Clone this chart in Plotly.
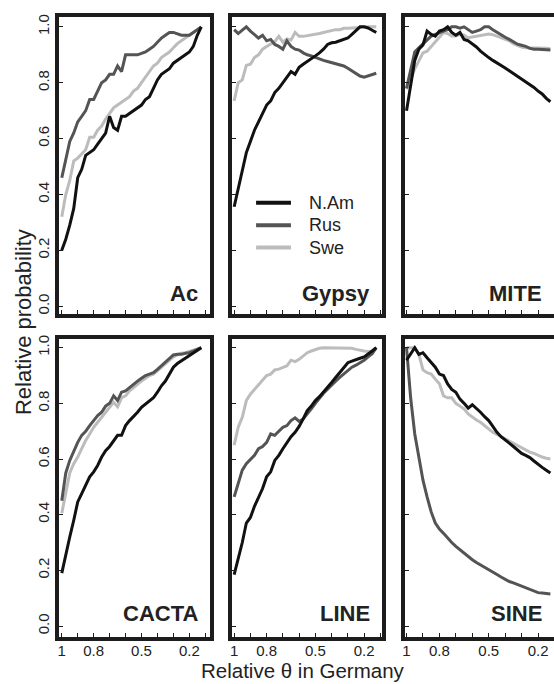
import plotly.graph_objects as go

# ---------------- data ----------------
X = [1.0, 0.975, 0.95, 0.925, 0.9, 0.875, 0.85, 0.825, 0.8, 0.775, 0.75, 0.725,
     0.7, 0.675, 0.65, 0.625, 0.6, 0.575, 0.55, 0.525, 0.5, 0.475, 0.45, 0.425,
     0.4, 0.375, 0.35, 0.325, 0.3, 0.275, 0.25, 0.225, 0.2, 0.175, 0.15, 0.125]

SERIES = ["N.Am", "Rus", "Swe"]
PANELS = ["Ac", "Gypsy", "MITE", "CACTA", "LINE", "SINE"]

AC_NAM = [0.20, 0.24, 0.29, 0.35, 0.46, 0.49, 0.54, 0.55, 0.56, 0.58, 0.60, 0.62,
          0.68, 0.64, 0.63, 0.68, 0.68, 0.69, 0.70, 0.71, 0.72, 0.74, 0.75, 0.78,
          0.81, 0.83, 0.84, 0.85, 0.87, 0.88, 0.89, 0.90, 0.91, 0.93, 0.97, 1.00]
AC_RUS = [0.46, 0.52, 0.59, 0.62, 0.66, 0.68, 0.70, 0.74, 0.74, 0.77, 0.80, 0.81,
          0.83, 0.83, 0.86, 0.84, 0.90, 0.90, 0.90, 0.90, 0.905, 0.91, 0.92, 0.93,
          0.945, 0.96, 0.97, 0.98, 0.98, 0.975, 0.97, 0.97, 0.97, 0.98, 0.99, 1.00]
AC_SWE = [0.32, 0.40, 0.45, 0.52, 0.53, 0.545, 0.56, 0.605, 0.605, 0.63, 0.645, 0.67,
          0.69, 0.71, 0.72, 0.73, 0.74, 0.75, 0.77, 0.78, 0.80, 0.82, 0.84, 0.86,
          0.87, 0.89, 0.90, 0.91, 0.925, 0.94, 0.95, 0.96, 0.97, 0.98, 0.99, 1.00]

GY_NAM = [0.356, 0.42, 0.48, 0.55, 0.59, 0.63, 0.66, 0.69, 0.72, 0.735, 0.765, 0.78,
          0.80, 0.82, 0.84, 0.83, 0.855, 0.866, 0.875, 0.884, 0.896, 0.907, 0.92, 0.937,
          0.943, 0.945, 0.95, 0.953, 0.96, 0.973, 0.988, 1.0, 1.0, 0.996, 0.988, 0.98]
GY_RUS = [0.99, 0.976, 0.988, 1.0, 0.985, 0.973, 0.96, 0.97, 0.95, 0.955, 0.937, 0.93,
          0.92, 0.95, 0.93, 0.92, 0.917, 0.907, 0.90, 0.896, 0.89, 0.884, 0.88, 0.876,
          0.872, 0.868, 0.864, 0.86, 0.852, 0.842, 0.834, 0.824, 0.82, 0.824, 0.83, 0.834]
GY_SWE = [0.735, 0.80, 0.81, 0.862, 0.866, 0.89, 0.90, 0.92, 0.93, 0.94, 0.947, 0.966,
          0.945, 0.957, 0.953, 0.98, 0.966, 0.966, 0.968, 0.97, 0.972, 0.976, 0.98, 0.984,
          0.988, 0.99, 0.99, 0.995, 0.995, 0.995, 0.997, 0.998, 1.0, 1.0, 1.0, 1.0]

MI_NAM = [0.70, 0.79, 0.88, 0.92, 0.935, 0.985, 0.973, 0.967, 0.985, 0.99, 1.0, 0.98,
          0.97, 0.98, 0.955, 0.95, 0.94, 0.928, 0.913, 0.90, 0.89, 0.88, 0.872, 0.862,
          0.853, 0.843, 0.833, 0.822, 0.813, 0.803, 0.794, 0.783, 0.77, 0.76, 0.744, 0.732]
MI_RUS = [0.78, 0.85, 0.91, 0.925, 0.94, 0.955, 0.967, 0.973, 0.98, 0.985, 0.99, 1.0,
          1.0, 0.995, 1.0, 0.99, 0.98, 0.985, 0.99, 1.0, 1.0, 0.99, 0.98, 0.973,
          0.963, 0.955, 0.945, 0.938, 0.934, 0.93, 0.923, 0.92, 0.92, 0.92, 0.918, 0.917]
MI_SWE = [0.777, 0.81, 0.85, 0.88, 0.907, 0.913, 0.93, 0.945, 0.96, 0.98, 0.976, 0.967,
          0.967, 0.973, 0.97, 0.96, 0.964, 0.967, 0.97, 0.973, 0.974, 0.972, 0.967, 0.96,
          0.955, 0.95, 0.94, 0.934, 0.928, 0.925, 0.925, 0.925, 0.925, 0.924, 0.923, 0.922]

CA_NAM = [0.19, 0.26, 0.32, 0.38, 0.446, 0.476, 0.506, 0.536, 0.554, 0.577, 0.607, 0.63,
          0.645, 0.667, 0.685, 0.685, 0.72, 0.738, 0.752, 0.768, 0.786, 0.798, 0.81, 0.82,
          0.84, 0.863, 0.88, 0.905, 0.93, 0.943, 0.952, 0.962, 0.97, 0.982, 0.99, 1.0]
CA_RUS = [0.45, 0.55, 0.595, 0.63, 0.66, 0.685, 0.70, 0.72, 0.738, 0.756, 0.768, 0.79,
          0.80, 0.827, 0.81, 0.84, 0.845, 0.857, 0.87, 0.88, 0.89, 0.90, 0.905, 0.91,
          0.922, 0.935, 0.946, 0.962, 0.974, 0.976, 0.976, 0.98, 0.982, 0.988, 0.994, 1.0]
CA_SWE = [0.405, 0.476, 0.55, 0.583, 0.607, 0.637, 0.667, 0.69, 0.714, 0.732, 0.75, 0.768,
          0.783, 0.804, 0.788, 0.82, 0.827, 0.845, 0.857, 0.87, 0.88, 0.89, 0.90, 0.905,
          0.917, 0.93, 0.94, 0.955, 0.967, 0.974, 0.98, 0.982, 0.986, 0.99, 0.995, 1.0]

LI_NAM = [0.185, 0.24, 0.30, 0.37, 0.39, 0.43, 0.464, 0.494, 0.536, 0.554, 0.595, 0.613,
          0.637, 0.66, 0.68, 0.696, 0.717, 0.744, 0.774, 0.79, 0.81, 0.824, 0.84, 0.857,
          0.875, 0.893, 0.91, 0.93, 0.946, 0.952, 0.958, 0.962, 0.967, 0.976, 0.988, 1.0]
LI_RUS = [0.464, 0.51, 0.56, 0.583, 0.60, 0.613, 0.637, 0.645, 0.66, 0.69, 0.685, 0.70,
          0.714, 0.72, 0.738, 0.748, 0.735, 0.744, 0.76, 0.78, 0.80, 0.82, 0.836, 0.851,
          0.867, 0.88, 0.893, 0.905, 0.917, 0.93, 0.937, 0.945, 0.955, 0.967, 0.978, 1.0]
LI_SWE = [0.65, 0.714, 0.75, 0.81, 0.833, 0.85, 0.87, 0.883, 0.90, 0.905, 0.92, 0.923,
          0.93, 0.935, 0.955, 0.95, 0.958, 0.97, 0.982, 0.988, 0.994, 0.998, 1.0, 1.0,
          1.0, 1.0, 1.0, 1.0, 1.0, 0.998, 0.994, 0.99, 0.988, 0.986, 0.988, 1.0]

SI_NAM = [0.955, 0.976, 1.0, 0.976, 0.982, 0.964, 0.946, 0.93, 0.905, 0.90, 0.87, 0.85,
          0.84, 0.815, 0.80, 0.783, 0.795, 0.783, 0.768, 0.752, 0.738, 0.717, 0.696, 0.68,
          0.67, 0.657, 0.645, 0.633, 0.62, 0.613, 0.605, 0.593, 0.58, 0.57, 0.56, 0.55]
SI_RUS = [1.0, 0.82, 0.69, 0.60, 0.524, 0.464, 0.41, 0.37, 0.348, 0.333, 0.315, 0.30,
          0.286, 0.274, 0.26, 0.248, 0.238, 0.228, 0.22, 0.212, 0.202, 0.194, 0.185, 0.176,
          0.167, 0.16, 0.155, 0.149, 0.143, 0.137, 0.13, 0.125, 0.12, 0.119, 0.117, 0.115]
SI_SWE = [1.0, 1.0, 1.0, 0.976, 0.92, 0.91, 0.905, 0.887, 0.87, 0.827, 0.82, 0.82,
          0.80, 0.79, 0.78, 0.762, 0.75, 0.74, 0.732, 0.72, 0.708, 0.696, 0.688, 0.68,
          0.673, 0.664, 0.657, 0.65, 0.64, 0.633, 0.625, 0.62, 0.613, 0.607, 0.603, 0.60]

PANEL_DATA = [
    (AC_NAM, AC_RUS, AC_SWE),
    (GY_NAM, GY_RUS, GY_SWE),
    (MI_NAM, MI_RUS, MI_SWE),
    (CA_NAM, CA_RUS, CA_SWE),
    (LI_NAM, LI_RUS, LI_SWE),
    (SI_NAM, SI_RUS, SI_SWE),
]

X_TICKVALS = [1.0, 0.9, 0.8, 0.7, 0.6, 0.5, 0.4, 0.3, 0.2, 0.1]
X_TICKTEXT = ["1", "", "0.8", "", "", "0.5", "", "", "0.2", ""]
Y_TICKVALS = [0.0, 0.2, 0.4, 0.6, 0.8, 1.0]
Y_TICKTEXT = ["0.0", "0.2", "0.4", "0.6", "0.8", "1.0"]

# ---------------- style ----------------
W, H = 554, 684
FONT = "Liberation Sans, Arial, Helvetica, sans-serif"
COLORS = {"N.Am": "#111111", "Rus": "#545454", "Swe": "#bcbcbc"}
FRAME = "#1c1c1c"
TXT = "#222222"

def px(x):
    return x / W

def py(y):
    return 1 - y / H

# column inner pixel extents; x1 = pixel of x=1, scale = pixels per unit
COLS = [
    dict(dom=(57.5, 208.5), x1=60.0, scale=160.0),
    dict(dom=(230.5, 381.5), x1=233.0, scale=163.0),
    dict(dom=(404.0, 554.0), x1=406.0, scale=165.0),
]
ROWS = [
    dict(dom=(14.0, 312.5), y1=24.0, y0=305.0),
    dict(dom=(337.5, 638.0), y1=346.7, y0=626.7),
]

fig = go.Figure()
layout = dict(
    width=W, height=H,
    margin=dict(l=0, r=0, t=0, b=0),
    paper_bgcolor="white", plot_bgcolor="white",
    showlegend=False,
    font=dict(family=FONT, color=TXT, size=15),
)

annotations = []
shapes = []

for i, name in enumerate(PANELS):
    r, c = divmod(i, 3)
    col, row = COLS[c], ROWS[r]
    k = i + 1
    xa = "xaxis" if k == 1 else f"xaxis{k}"
    ya = "yaxis" if k == 1 else f"yaxis{k}"
    xr = "x" if k == 1 else f"x{k}"
    yr = "y" if k == 1 else f"y{k}"

    xl = 1 + (col["x1"] - col["dom"][0]) / col["scale"]
    xh = 1 - (col["dom"][1] - col["x1"]) / col["scale"]
    ppu = row["y0"] - row["y1"]
    yt = 1 + (row["y1"] - row["dom"][0]) / ppu
    yb = -(row["dom"][1] - row["y0"]) / ppu

    layout[xa] = dict(
        domain=[px(col["dom"][0]), px(col["dom"][1])],
        range=[xl, xh], anchor=yr,
        showline=True, linewidth=4, linecolor=FRAME, mirror=True,
        ticks="inside", ticklen=4, tickwidth=1.3, tickcolor=FRAME,
        tickvals=X_TICKVALS, ticktext=X_TICKTEXT, ticklabelstandoff=-3,
        showticklabels=(r == 1), tickfont=dict(size=15, color=TXT, family=FONT),
        showgrid=False, zeroline=False, fixedrange=True,
    )
    layout[ya] = dict(
        domain=[py(row["dom"][1]), py(row["dom"][0])],
        range=[yb, yt], anchor=xr,
        showline=True, linewidth=4, linecolor=FRAME, mirror=(c != 2),
        ticks="inside", ticklen=4, tickwidth=1.3, tickcolor=FRAME,
        tickvals=Y_TICKVALS, ticktext=Y_TICKTEXT, tickangle=-90,
        showticklabels=(c == 0), tickfont=dict(size=15, color=TXT, family=FONT),
        showgrid=False, zeroline=False, fixedrange=True,
    )

    ys = PANEL_DATA[i]
    for s_name, yv in reversed(list(zip(SERIES, ys))):
        fig.add_trace(go.Scatter(
            x=X, y=yv, mode="lines", name=s_name, xaxis=xr, yaxis=yr,
            line=dict(color=COLORS[s_name], width=3),
            hoverinfo="skip",
        ))

    # panel label
    right_px = col["dom"][1] - 10 if c != 2 else 543.5
    base_px = 300.0 if r == 0 else 621.5
    annotations.append(dict(
        text=f"<b>{name}</b>", xref="paper", yref="paper",
        x=px(right_px), y=py(base_px - 7.5), xanchor="right", yanchor="middle",
        showarrow=False, font=dict(size=22, color=TXT, family=FONT),
    ))

# legend (inside Gypsy panel)
for j, s_name in enumerate(SERIES):
    yy = [201.0, 223.5, 246.0][j]
    shapes.append(dict(
        type="line", xref="paper", yref="paper",
        x0=px(255), x1=px(290), y0=py(yy), y1=py(yy),
        line=dict(color=COLORS[s_name], width=4),
    ))
    annotations.append(dict(
        text=s_name, xref="paper", yref="paper",
        x=px(306), y=py(yy), xanchor="left", yanchor="middle",
        showarrow=False, font=dict(size=18, color=TXT, family=FONT),
    ))

# axis titles
annotations.append(dict(
    text="Relative θ in Germany", xref="paper", yref="paper",
    x=px(302), y=py(671), xanchor="center", yanchor="middle",
    showarrow=False, font=dict(size=20.5, color=TXT, family=FONT),
))
annotations.append(dict(
    text="Relative probability", xref="paper", yref="paper",
    x=px(21), y=py(321), xanchor="center", yanchor="middle", textangle=-90,
    showarrow=False, font=dict(size=22, color=TXT, family=FONT),
))

layout["annotations"] = annotations
layout["shapes"] = shapes
fig.update_layout(**layout)
fig.write_html("out.html")
